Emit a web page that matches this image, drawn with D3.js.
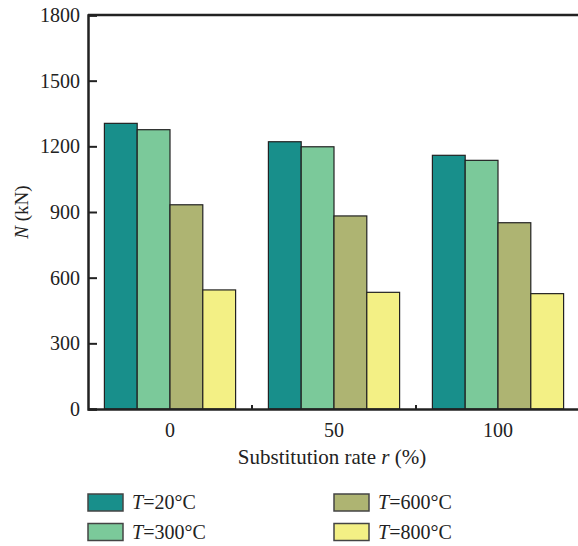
<!DOCTYPE html>
<html>
<head>
<meta charset="utf-8">
<script src="https://cdn.jsdelivr.net/npm/d3@7"></script>
<style>
  body { margin: 0; background: #fff; }
  text { font-family: "Liberation Serif", "DejaVu Serif", serif; fill: #222; }
</style>
</head>
<body>
<svg id="chart" width="578" height="546"></svg>
<script>
// data
var rates = ["0", "50", "100"];
var temps = ["20", "300", "600", "800"];
var t20 = [1305, 1221, 1159];
var t300 = [1276, 1198, 1136];
var t600 = [933, 882, 851];
var t800 = [544, 533, 527];
var yTicks = [0, 300, 600, 900, 1200, 1500, 1800];
var colors = ["#188f8b", "#7bc99a", "#aeb472", "#f3f085"];

var series = [t20, t300, t600, t800];

var svg = d3.select("#chart");
var plotL = 88, plotT = 15, plotB = 409, plotR = 580;

var x = d3.scaleBand().domain(rates).range([plotL, plotR]).paddingInner(0.2).paddingOuter(0.1);
var xs = d3.scaleBand().domain(temps).range([0, x.bandwidth()]);
var y = d3.scaleLinear().domain([0, 1800]).range([plotB, plotT]);

// bars
rates.forEach(function(r, i) {
  svg.append("g")
    .attr("transform", "translate(" + x(r) + ",0)")
    .selectAll("rect")
    .data(temps)
    .join("rect")
      .attr("x", function(t) { return xs(t); })
      .attr("y", function(t, j) { return y(series[j][i]); })
      .attr("width", xs.bandwidth())
      .attr("height", function(t, j) { return plotB - y(series[j][i]); })
      .attr("fill", function(t, j) { return colors[j]; })
      .attr("stroke", "#222")
      .attr("stroke-width", 1.2);
});

// y axis
var yAxis = svg.append("g")
  .attr("transform", "translate(" + plotL + ",0)")
  .call(d3.axisLeft(y).tickValues(yTicks).tickSize(-9).tickPadding(8).tickFormat(d3.format("d")));
yAxis.select(".domain").attr("stroke", "#222").attr("stroke-width", 2.5);
yAxis.selectAll(".tick line").attr("stroke", "#222").attr("stroke-width", 2);
yAxis.selectAll(".tick text").style("font-size", "20px").attr("fill", "#222").attr("x", -8);

// top border
svg.append("line")
  .attr("x1", plotL).attr("x2", 578)
  .attr("y1", plotT).attr("y2", plotT)
  .attr("stroke", "#222").attr("stroke-width", 2.5);

// x axis
var xAxis = svg.append("g")
  .attr("transform", "translate(0," + plotB + ")")
  .call(d3.axisBottom(x).tickSize(0).tickPadding(14));
xAxis.select(".domain").attr("stroke", "#222").attr("stroke-width", 2.5);
xAxis.selectAll(".tick text").style("font-size", "20px").attr("fill", "#222");

// small ticks between groups
var bounds = rates.slice(1).map(function(r) { return x(r) - x.step() * x.paddingInner() / 2; });
svg.selectAll(".sep")
  .data(bounds)
  .join("line")
    .attr("class", "sep")
    .attr("x1", function(d) { return d; }).attr("x2", function(d) { return d; })
    .attr("y1", plotB).attr("y2", plotB - 4)
    .attr("stroke", "#222").attr("stroke-width", 2);

// axis titles
var yl = svg.append("text")
  .attr("transform", "translate(28,212) rotate(-90)")
  .attr("text-anchor", "middle")
  .style("font-size", "19px");
yl.append("tspan").style("font-style", "italic").text("N");
yl.append("tspan").text(" (kN)");

var xl = svg.append("text")
  .attr("x", 332).attr("y", 464)
  .attr("text-anchor", "middle")
  .style("font-size", "21px");
xl.append("tspan").text("Substitution rate ");
xl.append("tspan").style("font-style", "italic").text("r");
xl.append("tspan").text(" (%)");

// legend
var legend = svg.append("g");
var items = legend.selectAll("g")
  .data(temps)
  .join("g")
    .attr("transform", function(d, i) {
      return "translate(" + (i < 2 ? 88 : 334) + "," + (494 + (i % 2) * 29.5) + ")";
    });
items.append("rect")
  .attr("width", 35).attr("height", 17)
  .attr("fill", function(d) { return colors[temps.indexOf(d)]; })
  .attr("stroke", "#444").attr("stroke-width", 1.5);
var lt = items.append("text")
  .attr("x", 44).attr("y", 15)
  .style("font-size", "20px");
lt.append("tspan").style("font-style", "italic").text("T");
lt.append("tspan").text(function(d) { return "=" + d + "°C"; });
</script>
</body>
</html>
